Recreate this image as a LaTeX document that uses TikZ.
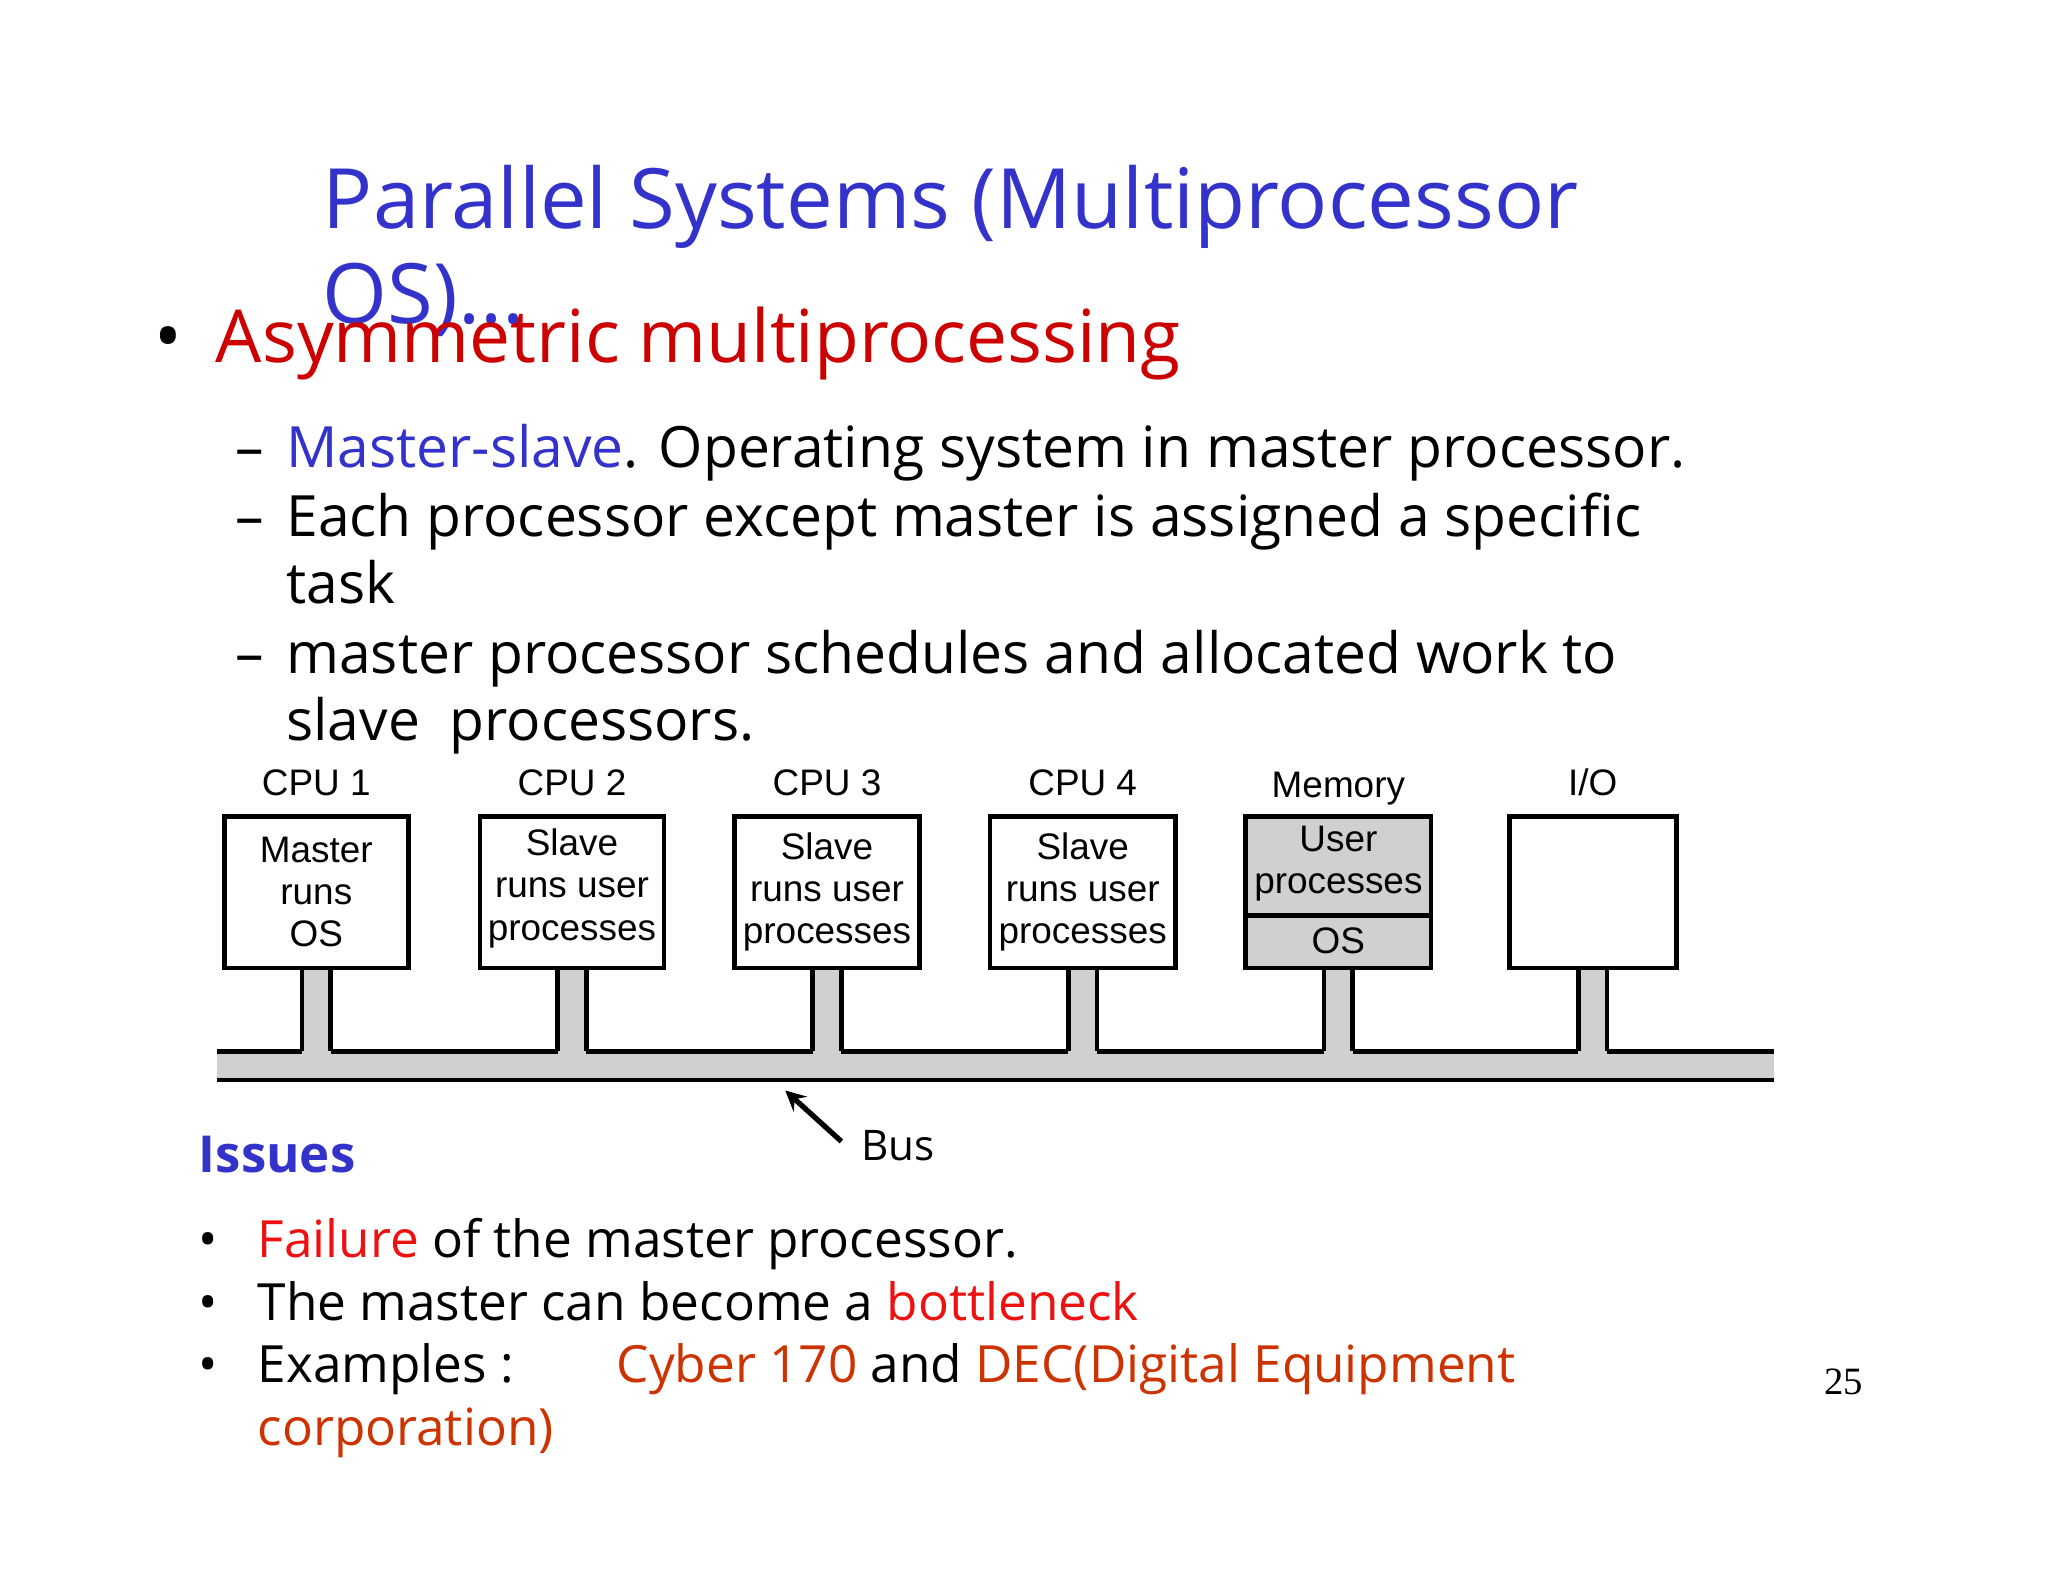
\documentclass[tikz,border=0pt]{standalone}
\usepackage{fontspec}
\setmainfont{Open Sans}
\newfontfamily\arialf{Liberation Sans}
\newfontfamily\serf{Liberation Serif}
\definecolor{tblue}{RGB}{51,51,204}
\definecolor{tred}{RGB}{204,0,0}
\definecolor{fred}{RGB}{238,17,17}
\definecolor{ored}{RGB}{204,51,0}
\definecolor{busg}{RGB}{208,208,208}
\begin{document}
\begin{tikzpicture}[x=0.13045mm,y=-0.13045mm,
  txt/.style={anchor=base west,inner sep=0pt},
  blab/.style={font=\arialf\fontsize{10.5}{12}\selectfont,align=center,inner sep=0pt},
  clab/.style={font=\arialf\fontsize{10.5}{12}\selectfont,anchor=base,inner sep=0pt}]
\useasboundingbox (0,0) rectangle (1570,1212.7);
\fill[white] (0,0) rectangle (1570,1212.7);
% title
\node[txt,text=tblue,font=\fontsize{23.7}{30}\selectfont] (t1) at (247,175) {Parallel Systems (Multiprocessor};
\node[txt,text=tblue,font=\fontsize{23.7}{30}\selectfont] (t2) at (247,248) {OS)...};
\node[txt,font=\fontsize{21}{25}\selectfont] (b0) at (118,278) {\textbullet};
\node[txt,text=tred,font=\fontsize{20.8}{25}\selectfont] (h1) at (165,278) {Asymmetric multiprocessing};
% sub bullets
\foreach \y/\t [count=\i] in {358/{\textcolor{tblue}{Master-slave}. Operating system in master processor.},
  411/{Each processor except master is assigned a specific},
  463/{task},
  516/{master processor schedules and allocated work to},
  568/{slave\ \ processors.}}{
  \node[txt,font=\fontsize{16.2}{20}\selectfont] (s\i) at (219,\y) {\t};
}
\foreach \y [count=\i] in {358,411,516}{
  \node[txt,font=\fontsize{16.2}{20}\selectfont] (d\i) at (180,\y) {--};
}
% bus
\fill[busg] (166,806) rectangle (1360,828);
\draw[line width=1.3pt] (166,828) -- (1360,828);
\foreach \cx in {242.5,438.5,634,830,1026,1221}{
  \fill[busg] (\cx-11,742) rectangle (\cx+11,806);
  \draw[line width=1.3pt] (\cx-11,742) -- (\cx-11,806) (\cx+11,742) -- (\cx+11,806);
}
\draw[line width=1.3pt] (166,806) -- (231.5,806) (253.5,806) -- (427.5,806) (449.5,806) -- (623,806)
  (645,806) -- (819,806) (841,806) -- (1015,806) (1037,806) -- (1210,806) (1232,806) -- (1360,806);
% boxes
\draw[line width=1.3pt] (172,626) rectangle (313,742);
\draw[line width=1.3pt] (368,626) rectangle (509,742);
\draw[line width=1.3pt] (563,626) rectangle (705,742);
\draw[line width=1.3pt] (759,626) rectangle (901,742);
\draw[line width=1.3pt,fill=busg] (955,626) rectangle (1097,742);
\draw[line width=1.3pt] (955,702) -- (1097,702);
\draw[line width=1.3pt] (1157,626) rectangle (1285,742);
\node[blab] (m1) at (242.5,684) {Master\\runs\\OS};
\node[blab] (m2) at (438.5,681) {Slave\\runs user\\processes};
\node[blab] (m3) at (634,684) {Slave\\runs user\\processes};
\node[blab] (m4) at (830,684) {Slave\\runs user\\processes};
\node[blab] (m5) at (1026,662) {User\\processes};
\node[blab] (m6) at (1026,721) {OS};
\node[clab] (l1) at (242.5,610) {CPU 1};
\node[clab] (l2) at (438.5,610) {CPU 2};
\node[clab] (l3) at (634,610) {CPU 3};
\node[clab] (l4) at (830,610) {CPU 4};
\node[clab] (l5) at (1026,611) {Memory};
\node[clab] (l6) at (1221,610) {I/O};
% bus label
\node[txt,font=\fontsize{12}{14}\selectfont] (bus) at (660,890) {Bus};
\coordinate (bt) at (602,836);
\coordinate (bs) at (645,875);
\draw[line width=1.5pt,-stealth] (bs) -- (bt);
% issues
\node[txt,text=tblue,font=\bfseries\fontsize{14.5}{18}\selectfont] (iss) at (152,899) {Issues};
\foreach \y/\t [count=\i] in {964/{\textcolor{fred}{Failure} of the master processor.},
  1012/{The master can become a \textcolor{fred}{bottleneck}},
  1060/{Examples :\qquad\textcolor{ored}{Cyber 170} and \textcolor{ored}{DEC(Digital Equipment}},
  1108/{\textcolor{ored}{corporation)}}}{
  \node[txt,font=\fontsize{14.6}{18}\selectfont] (i\i) at (197,\y) {\t};
}
\foreach \y [count=\i] in {964,1012,1060}{
  \node[txt,font=\fontsize{14.6}{18}\selectfont] (ib\i) at (152,\y) {\textbullet};
}
\node[txt,font=\serf\fontsize{11}{13}\selectfont] (pg) at (1398,1069) {25};
\end{tikzpicture}
\end{document}
